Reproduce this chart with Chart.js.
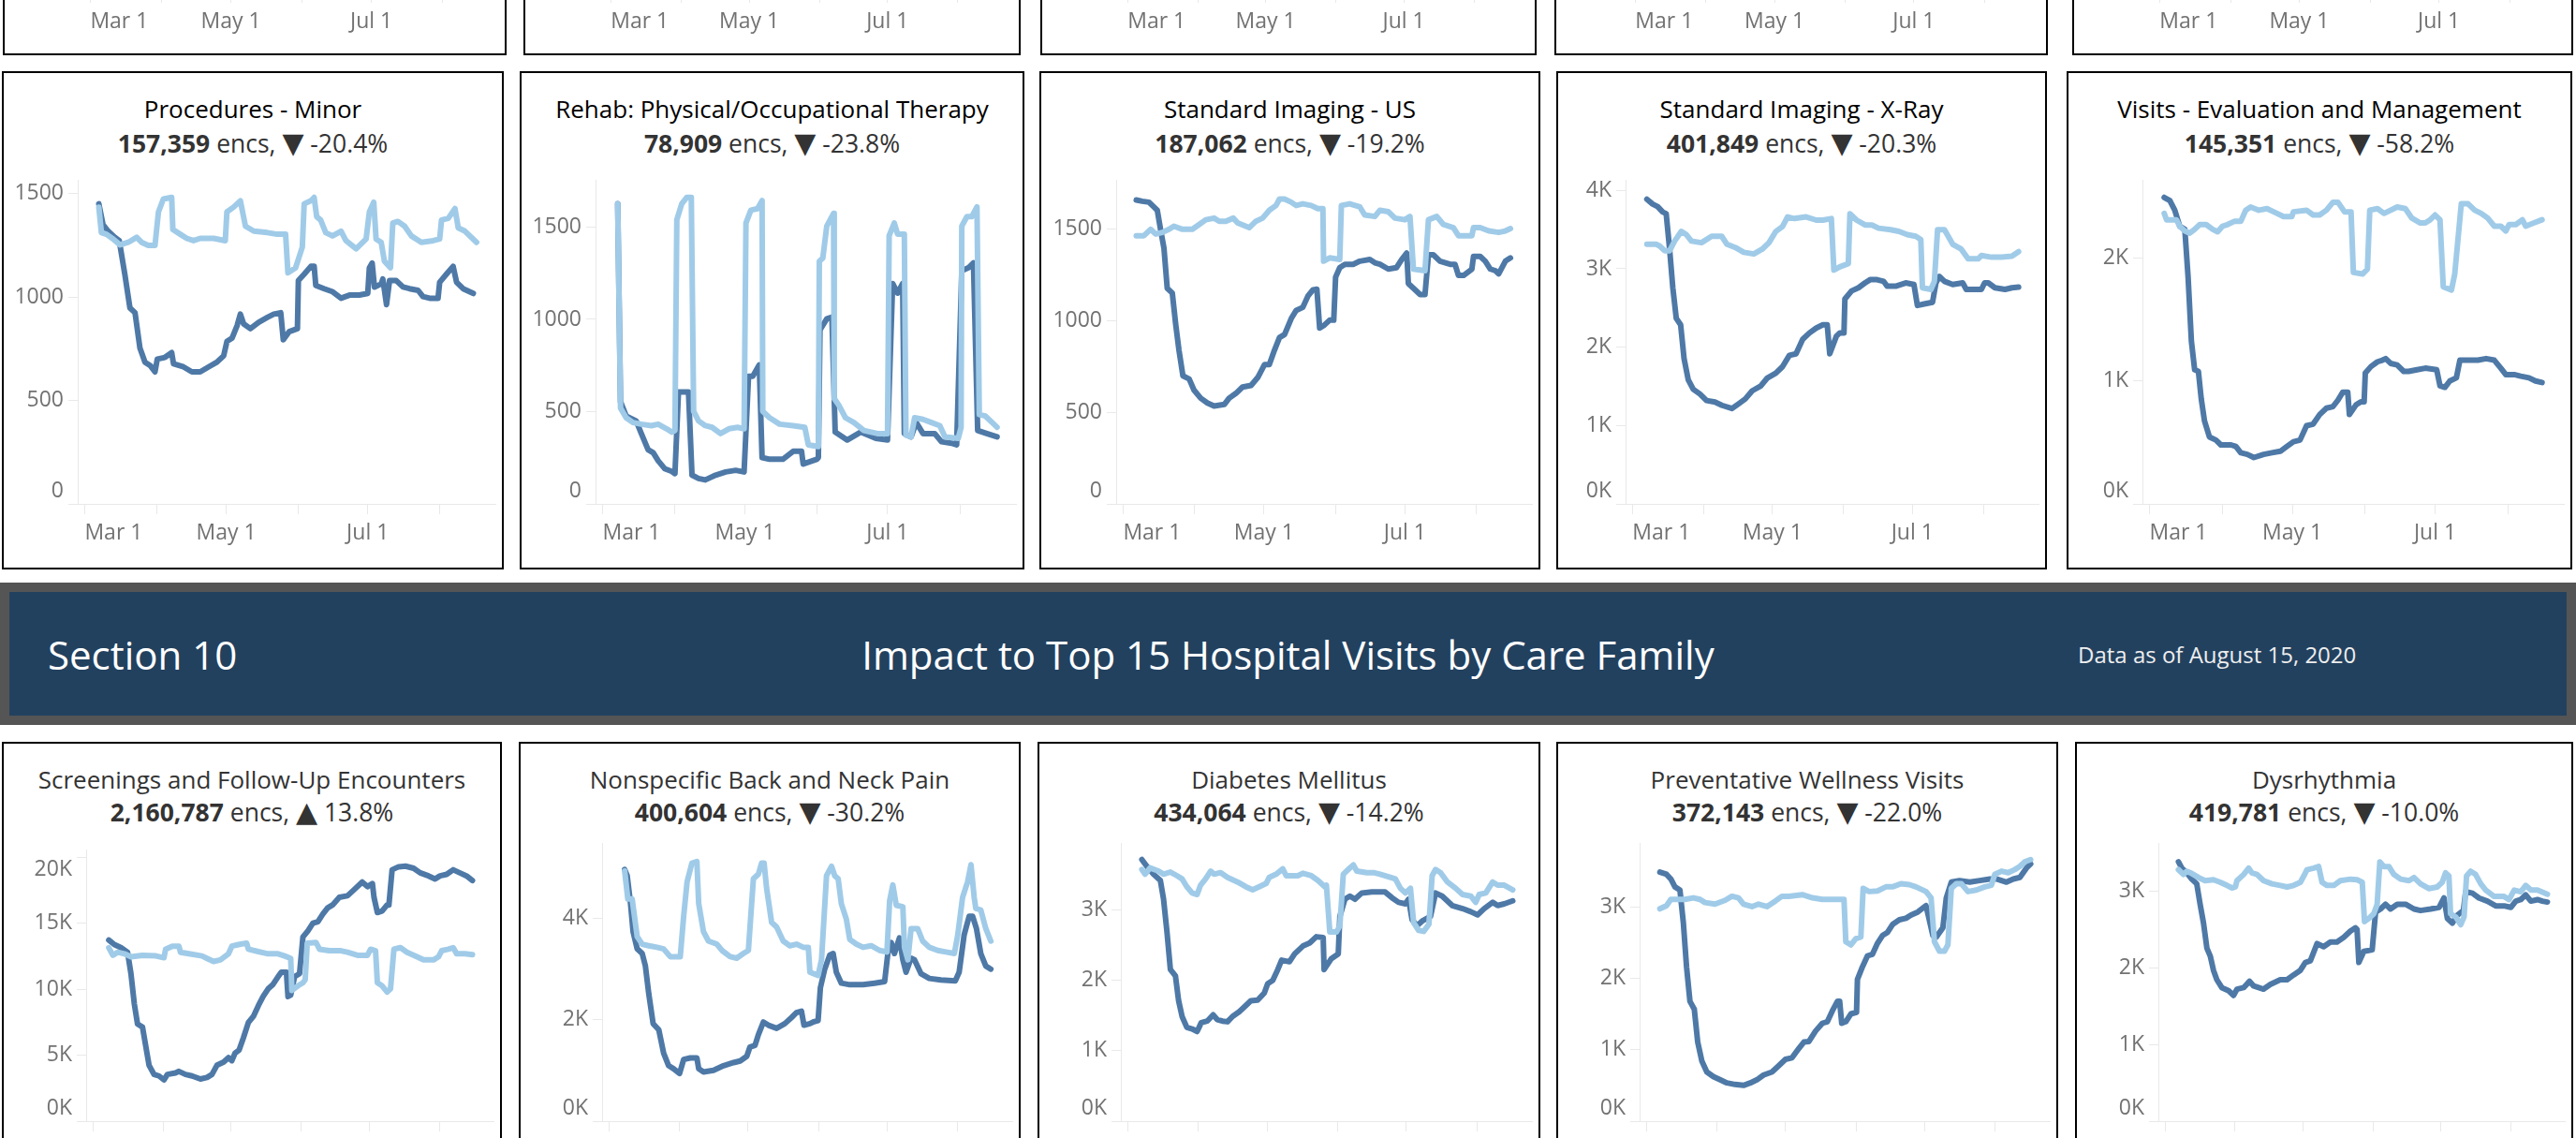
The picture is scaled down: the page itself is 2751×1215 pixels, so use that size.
<!DOCTYPE html>
<html>
<head>
<meta charset="utf-8">
<script src="https://cdn.jsdelivr.net/npm/chart.js@4.4.0/dist/chart.umd.min.js"></script>
<style>
  body { margin: 0; width: 2751px; height: 1215px; overflow: hidden; background: #fff; position: relative; font-family: 'Open Sans', 'Noto Sans', sans-serif; }
  .panel { position: absolute; box-sizing: border-box; border: 2px solid #000; background: #fff; overflow: hidden; }
  .ttl, .sub { position: absolute; left: 0; right: 0; text-align: center; white-space: nowrap; font-size: 26px; line-height: 36px; }
  .ttl.mid { color: #000; font-weight: 500; }
  .ttl.low { color: #333; }
  .sub { color: #333; font-size: 26.5px; }
  .sub b { font-weight: 700; }
  .sub i { font-style: normal; font-family: 'DejaVu Sans', sans-serif; font-size: 30px; }
  .panel canvas { position: absolute; left: 0; }
  #banner { position: absolute; left: 0; top: 622px; width: 2751px; height: 152px; background: #555; }
  #banner .inner { position: absolute; left: 10px; right: 10px; top: 10px; bottom: 10px; background: #22415f; color: #fff; }
  #banner span { position: absolute; top: 50%; transform: translateY(-50%); white-space: nowrap; }
</style>
</head>
<body>
<div id="banner"><div class="inner">
  <span style="left:41px;font-size:42px">Section 10</span>
  <span style="left:50%;transform:translate(-50%,-50%);font-size:42px">Impact to Top 15 Hospital Visits by Care Family</span>
  <span style="left:2209px;font-size:24px;color:#eee">Data as of August 15, 2020</span>
</div></div>
<script>
// x values are days since Mar 1, 2020
const monthTicks = [0, 31, 61, 92, 122, 153];
const monthLabels = ['Mar 1', '', 'May 1', '', 'Jul 1', ''];

const midTitles = ['Procedures - Minor', 'Rehab: Physical/Occupational Therapy', 'Standard Imaging - US', 'Standard Imaging - X-Ray', 'Visits - Evaluation and Management'];
const midTotals = ['157,359', '78,909', '187,062', '401,849', '145,351'];
const midChanges = [-20.4, -23.8, -19.2, -20.3, -58.2];
const midYTicks = [[0, 500, 1000, 1500], [0, 500, 1000, 1500], [0, 500, 1000, 1500], [0, 1000, 2000, 3000, 4000], [0, 1000, 2000]];
const midYMax = [1566, 1756, 1769, 4135, 2636];

const lowTitles = ['Screenings and Follow-Up Encounters', 'Nonspecific Back and Neck Pain', 'Diabetes Mellitus', 'Preventative Wellness Visits', 'Dysrhythmia'];
const lowTotals = ['2,160,787', '400,604', '434,064', '372,143', '419,781'];
const lowChanges = [13.8, -30.2, -14.2, -22.0, -10.0];
const lowYTicks = [[0, 5000, 10000, 15000, 20000], [0, 2000, 4000], [0, 1000, 2000, 3000], [0, 1000, 2000, 3000], [0, 1000, 2000, 3000]];
const lowYMax = [20557, 5495, 3955, 3899, 3635];

// [day, encounters] 2020 (dark) and 2019 (light)
const procMinorCur = [[6.1,1450],[7.9,1349],[10.1,1318],[13,1288],[14.9,1272],[17.3,1110],[19.5,947],[21.7,924],[23.8,754],[26,685],[28.2,669],[30.3,638],[31.3,700],[34.6,708],[37.5,731],[38.3,677],[42.6,662],[46.2,638],[49.8,638],[53.4,662],[57,685],[59.9,716],[61.3,785],[63.5,801],[65.7,862],[67.1,917],[68.5,870],[71.4,847],[75,878],[78.7,901],[81.5,917],[84.5,924],[85.6,793],[88.1,832],[91.7,847],[92.1,1079],[94.6,1110],[97.5,1148],[98.9,1148],[99.6,1056],[103.2,1040],[106.9,1025],[110.5,994],[114.1,1009],[118.4,1009],[122,1017],[122.7,1141],[123.9,1164],[124.9,1048],[127.8,1063],[128.5,1087],[130.1,963],[131.4,1079],[134.3,1079],[137.2,1048],[140,1040],[143.7,1032],[145.8,1002],[148.7,994],[152.3,994],[153,1071],[155.9,1110],[158.8,1148],[160.3,1071],[163.1,1040],[167.5,1017]];
const procMinorPrior = [[6.1,1434],[7.2,1311],[9.4,1303],[12.3,1280],[15.2,1252],[18.8,1264],[22.4,1288],[24.5,1264],[27.4,1249],[30.3,1249],[31.8,1411],[33.9,1473],[37.5,1481],[38,1326],[41.2,1303],[44,1283],[46.9,1272],[49.8,1283],[55.6,1283],[60.6,1272],[61.3,1411],[64.2,1434],[67.1,1465],[69.3,1342],[72.9,1318],[78.7,1311],[83,1303],[86.6,1303],[87.6,1117],[90.9,1141],[93.8,1241],[94.6,1450],[97.5,1465],[98.9,1481],[100,1388],[101.7,1372],[103.9,1311],[106.8,1295],[110.5,1318],[112.6,1272],[117,1233],[121.3,1280],[122.7,1411],[124.6,1458],[125.6,1280],[127.8,1264],[129.2,1172],[131.8,1141],[132.8,1357],[135,1365],[137.9,1342],[140.8,1295],[145.1,1264],[150.2,1272],[153,1280],[153.8,1372],[156.7,1380],[159.6,1427],[161,1334],[163.9,1318],[168.9,1264]];

const rehabCur = [[6.5,1626],[7.7,554],[10.1,476],[14.4,450],[16.6,381],[19.5,294],[21.7,277],[23.8,234],[26.7,190],[29.6,176],[31,164],[32.5,606],[36.8,606],[38.3,156],[41.1,138],[44,130],[48.4,156],[52.7,173],[57,182],[60.6,173],[62.5,692],[64.3,692],[67.1,753],[68.3,251],[71.5,242],[77.2,242],[81.6,285],[85.2,285],[85.9,216],[91.7,242],[92.4,251],[93.1,943],[96,1003],[98.2,1012],[99.6,389],[104.7,346],[110.5,389],[117,355],[122,346],[124.2,1194],[126.3,1142],[128.5,1194],[129.2,381],[132.1,363],[134.3,441],[137.2,381],[142.2,381],[145.1,337],[149.4,329],[151.6,320],[153.8,1263],[156.7,1280],[158.8,1306],[160.6,398],[164.5,381],[168.9,363]];
const rehabPrior = [[6.5,1626],[7.7,519],[10.1,467],[13,441],[16.6,432],[20.9,424],[23.8,432],[27.4,407],[29.6,389],[31,398],[31.8,1540],[33.9,1626],[36.1,1661],[38,1661],[39,502],[41.1,450],[44,424],[46.9,415],[50.5,381],[54.1,407],[57.8,415],[60.6,407],[61.4,1522],[63.5,1592],[66.4,1600],[68.3,1644],[68.6,502],[71.5,467],[75.8,432],[81.6,424],[86.6,415],[88.1,320],[92.4,311],[92.8,1315],[94.3,1332],[96,1505],[98.9,1574],[99.2,571],[101.1,536],[104,467],[107.6,441],[111.9,398],[117.7,381],[122,381],[122.7,1453],[124.9,1522],[126.3,1462],[129.2,1462],[129.9,372],[132.1,363],[133.6,467],[137.2,458],[140.8,441],[144.4,424],[146.6,363],[152.3,355],[153.5,415],[153.8,1505],[156,1557],[158.1,1557],[160.3,1609],[161.3,484],[163.9,476],[166.8,441],[168.9,415]];

const usCur = [[5.7,1659],[8.3,1652],[11.2,1647],[13.3,1621],[14.8,1603],[16.2,1499],[17.7,1395],[19.1,1177],[21.3,1151],[22.8,977],[24.2,838],[25.9,699],[28.6,682],[30.7,621],[33.6,577],[36.5,551],[39.4,534],[43.8,543],[45.9,577],[48.8,603],[51.7,638],[55.4,647],[58.3,690],[61.2,760],[63.3,760],[65.5,838],[67.7,908],[69.9,925],[72.8,1012],[74.9,1056],[77.8,1073],[80,1134],[82.2,1169],[83.9,1172],[85.1,960],[87.2,977],[89.4,1003],[91.2,1003],[92,1238],[93.8,1290],[96,1308],[99.6,1308],[102.5,1325],[106.8,1334],[109,1316],[111.2,1308],[114.8,1282],[118.4,1290],[120.6,1334],[122.8,1369],[123.5,1203],[125.7,1177],[128.6,1143],[130.7,1143],[132.2,1360],[134.3,1360],[137.2,1325],[141.6,1308],[143.7,1308],[145.2,1247],[147.4,1247],[151,1282],[151.7,1351],[154.6,1351],[156.8,1325],[159,1282],[161.2,1273],[162.6,1256],[165.5,1325],[167.7,1343]];
const usPrior = [[5.7,1464],[9,1464],[11.9,1499],[14.1,1473],[17,1482],[19.9,1499],[22,1516],[25.7,1499],[30,1499],[32.9,1525],[35.8,1551],[39.4,1560],[41.6,1543],[44.5,1543],[47.7,1560],[49.6,1534],[54.6,1508],[57.5,1543],[60.4,1560],[63.3,1603],[66.2,1629],[67.7,1664],[69.9,1664],[72.8,1647],[74.9,1629],[77.8,1638],[81.4,1629],[84.3,1612],[86.5,1612],[86.8,1325],[89.4,1343],[93.8,1334],[94.5,1629],[98.1,1638],[102.5,1621],[104.6,1577],[109,1569],[111.2,1603],[114.8,1595],[117.7,1560],[122,1551],[124.2,1569],[125.7,1282],[130.7,1273],[132.2,1551],[135.8,1569],[138.7,1525],[143,1508],[145.2,1464],[151,1464],[151.7,1508],[154.6,1508],[158.3,1490],[162.6,1482],[165.5,1490],[167.7,1503]];

const xrayCur = [[6.3,3888],[8.8,3826],[11,3793],[13.2,3724],[14.7,3703],[16.2,3251],[17.6,2758],[19.1,2367],[21,2285],[22.5,1854],[24.3,1586],[26.5,1463],[29.4,1402],[32.3,1319],[36,1299],[39,1258],[43.4,1217],[46.3,1278],[49.2,1340],[52.2,1443],[55.9,1504],[58.8,1607],[62.5,1669],[65.4,1751],[68.4,1895],[71.3,1915],[74.2,2100],[77.2,2182],[80.1,2244],[83,2285],[84.9,2285],[86,1915],[88.9,2141],[90.4,2182],[92.2,2182],[92.6,2614],[95.5,2717],[98.5,2758],[101.4,2820],[103.6,2861],[106.6,2861],[109.5,2840],[111,2778],[114.7,2778],[119.1,2820],[122.7,2799],[124.2,2532],[127.2,2552],[130.8,2573],[132.3,2820],[133.8,2902],[136,2840],[139.6,2799],[144,2820],[145.5,2737],[152.1,2737],[153.5,2820],[155.1,2820],[158,2758],[162.4,2737],[165.4,2758],[168.3,2766]];
const xrayPrior = [[6.3,3313],[10.3,3313],[11.8,3292],[14,3231],[16.2,3231],[18.4,3354],[21.3,3477],[23.5,3436],[25.7,3354],[30.1,3333],[34.5,3415],[38.9,3415],[41.2,3313],[44.8,3272],[48.5,3210],[52.9,3189],[56.6,3251],[59.5,3333],[62.5,3477],[65.4,3539],[67.6,3662],[70.6,3641],[75.7,3662],[80.1,3621],[83,3621],[86.7,3641],[87.8,2984],[90.4,3025],[94.1,3066],[94.8,3703],[97.7,3621],[101.4,3559],[104.4,3559],[107.3,3518],[112.5,3498],[116.1,3477],[119.8,3436],[123.5,3415],[125.7,3374],[126.4,2758],[130.1,2737],[131.6,2840],[133,3498],[136,3498],[139.6,3313],[143.3,3251],[146.3,3128],[150.7,3128],[152.1,3169],[156.5,3148],[160.9,3148],[165.4,3161],[168.3,3218]];

const emCur = [[6.3,2493],[8.7,2467],[10.8,2389],[12.9,2259],[15.1,2233],[16.5,1844],[17.9,1324],[19.3,1091],[20.9,1078],[22.1,857],[23.5,675],[25.6,545],[28.4,519],[30.5,480],[34.8,480],[36.9,467],[39,416],[41.8,403],[44.6,377],[48.8,403],[52.3,416],[55.9,428],[58.7,467],[61.5,506],[64.3,519],[67.1,636],[69.9,649],[72.7,727],[75.6,779],[78.4,792],[80.5,844],[82.6,909],[84.7,909],[85.4,727],[88.2,805],[90.3,831],[91.7,831],[92.2,1065],[94.6,1117],[97.4,1156],[99.5,1169],[100.9,1182],[103,1143],[105.8,1130],[108.6,1078],[110.7,1078],[114.3,1091],[117.8,1104],[122.7,1091],[124.1,961],[126.2,948],[128.3,1000],[131.1,1026],[132.6,1169],[136.1,1169],[140.3,1169],[143.8,1182],[147.3,1169],[150.1,1104],[152.2,1052],[155.8,1052],[158.6,1039],[162.1,1026],[164.9,1000],[167.7,987]];
const emPrior = [[6.3,2363],[7.3,2311],[11.5,2311],[12.9,2259],[15.1,2220],[17.2,2202],[19.3,2233],[21.4,2272],[24.2,2272],[27,2233],[29.1,2213],[31.2,2259],[33.3,2272],[36.2,2298],[39,2298],[41.1,2389],[43.2,2415],[46.7,2389],[50.2,2402],[54.5,2363],[57.3,2337],[60.8,2337],[61.5,2376],[67.1,2389],[69.9,2350],[72.7,2350],[75.6,2389],[78.4,2454],[80.5,2454],[83.3,2376],[86.1,2376],[87.1,1883],[91,1870],[93.1,1909],[94.1,2389],[97.4,2402],[100.2,2363],[105.8,2415],[109.3,2402],[112.1,2324],[115.7,2285],[117.8,2285],[119.9,2311],[122,2350],[124.1,2311],[125.5,1766],[129,1740],[130.4,1870],[133.2,2441],[136.1,2441],[138.9,2389],[141.7,2363],[144.5,2324],[147.3,2259],[150.1,2259],[152.2,2220],[153.6,2272],[156.5,2272],[159.3,2311],[160.7,2259],[164.2,2285],[167.7,2311]];

const screenCur = [[7,13728],[9.5,13380],[12.4,13149],[15.3,12802],[16.8,11181],[18.3,8866],[19.7,7362],[21.9,7130],[23.4,5625],[24.8,4236],[27,3542],[29.2,3426],[31.4,3125],[32.9,3542],[36.5,3658],[38,3773],[40.9,3542],[43.8,3426],[47.5,3195],[50.4,3310],[52.6,3542],[54.8,4236],[57.7,4468],[59.9,4815],[61.4,4584],[62.8,5162],[64.6,5394],[66.5,6320],[68.7,7477],[70.9,7940],[73.1,8751],[75.2,9445],[77.4,10024],[79.6,10371],[81.8,10950],[83.3,11297],[85.5,11297],[86.2,9445],[87.4,9561],[89.1,10950],[91.3,11181],[92.8,13959],[95,14422],[97.2,15001],[99.4,15117],[101.6,15696],[103.7,16159],[105.9,16390],[108.9,16969],[112.5,17085],[115.4,17547],[119,18126],[121.3,17779],[123.5,18011],[124.2,16969],[125.7,15811],[127.8,15927],[130,16390],[130.8,16390],[132.2,19052],[135.1,19283],[138.1,19330],[141.7,19168],[144.6,18821],[148.3,18589],[151.2,18358],[153.4,18589],[156.3,18705],[159.2,19052],[162.1,18821],[165.1,18589],[167.7,18242]];
const screenPrior = [[7,13149],[8.8,12570],[10.9,12802],[13.9,12686],[16.8,12455],[21.9,12570],[27.8,12524],[31.4,12385],[32.1,13033],[35.1,13265],[38,13265],[38.7,12802],[42.4,12686],[48.2,12524],[50.4,12339],[53.3,12107],[56.3,12223],[59.9,12686],[61.4,13265],[64.3,13380],[67.9,13496],[68.7,13033],[73.1,12848],[77.4,12686],[81.8,12686],[84.7,12524],[87.4,12339],[87.9,9908],[90.6,10256],[92.8,10487],[93.8,10718],[94.7,13496],[98.6,13542],[100.1,13033],[104.5,12918],[109.6,12918],[112.5,12802],[116.9,12570],[121.3,12570],[122.7,13033],[124.9,12918],[125.7,10487],[127.8,10256],[130,9792],[131.5,10024],[133,13033],[135.9,13149],[138.8,12802],[143.2,12455],[146.1,12223],[150.5,12223],[152.7,12455],[154.1,12918],[157.1,13033],[159.2,13149],[160.7,12686],[164.4,12686],[167.7,12617]];

const backCur = [[6.9,4972],[8,4849],[9.5,4295],[10.6,3742],[12.4,3403],[14.6,3311],[16,3065],[17.5,2511],[19.4,1926],[21.9,1803],[24,1342],[26.2,1095],[28.4,1034],[31,942],[32.8,1218],[35.7,1249],[38.6,1249],[39.4,1034],[41.5,972],[45.9,1003],[50.3,1095],[54.7,1157],[57.6,1188],[60.5,1280],[61.9,1465],[64.1,1495],[65.6,1711],[67.8,1957],[70,1895],[73.6,1834],[77.2,1926],[80.2,2049],[82.3,2142],[84.5,2172],[85.6,1895],[88.2,1926],[89.6,1957],[91.8,1988],[92.8,2634],[94.7,3003],[96.9,3280],[98.4,3311],[99.8,2942],[102,2726],[105.7,2695],[111.5,2695],[116.6,2726],[121,2757],[122.4,3311],[123.9,3526],[125.3,3311],[127.5,3619],[129,3188],[130.4,2942],[132.6,3219],[134.1,3188],[137,2911],[140.6,2819],[145.7,2788],[152,2769],[153.7,2942],[155.9,3680],[158.1,4049],[159.6,4049],[161.3,3803],[163.2,3311],[165.4,3065],[167.6,3003]];
const backPrior = [[6.9,4942],[8.3,4388],[10.2,4388],[12.4,3649],[14.6,3496],[17.5,3465],[21.1,3434],[24,3403],[26.9,3249],[31.3,3249],[32.8,4049],[34.3,4726],[36.4,5095],[38.6,5126],[39.4,4295],[41.5,3742],[43.7,3557],[47.4,3496],[49.6,3372],[53.2,3249],[56.1,3219],[59,3311],[61.2,3372],[63.4,4788],[65.6,4880],[67,5095],[68.1,5095],[69.2,4603],[71.4,3926],[73.6,3834],[76.5,3557],[79.4,3465],[82.3,3496],[85.3,3434],[87.5,3434],[88.2,2942],[91.8,2880],[93.3,3188],[95.5,4849],[97.7,5034],[99.1,4849],[100.6,4788],[102,4295],[104.2,3988],[105.7,3588],[108.6,3496],[111.5,3434],[115.1,3465],[118.8,3372],[122,3342],[123.2,4357],[124.6,4665],[126.1,4265],[129,4234],[129.7,3434],[131.2,3188],[132.6,3803],[135.5,3803],[137.7,3557],[140.6,3434],[144.3,3372],[147.9,3342],[151.6,3311],[153.1,3680],[155.2,4419],[157.4,4726],[158.9,5065],[160.3,4419],[161,4203],[163.2,4172],[165.4,3803],[167.6,3557]];

const diabCur = [[6.2,3720],[8.4,3622],[11.3,3511],[14.3,3422],[15.7,3155],[17.2,2689],[18.7,2155],[20.9,2067],[22.3,1711],[23.8,1489],[25.9,1333],[28.2,1311],[30.4,1275],[32.2,1400],[34.8,1422],[37.4,1511],[39.2,1444],[41.5,1422],[43.7,1413],[45.9,1489],[48.8,1555],[51,1622],[53.9,1711],[56.9,1720],[59.8,1822],[61.3,1955],[63.5,2000],[65.7,2155],[67.4,2289],[70.8,2266],[73.1,2378],[76.7,2489],[79.7,2533],[82.6,2622],[85.6,2609],[86,2155],[89.2,2311],[92.2,2378],[92.9,2911],[95.1,3155],[97.3,3200],[99.5,3155],[102.5,3244],[106.9,3258],[112.7,3258],[115.7,3177],[118.6,3111],[121.6,3089],[123,3155],[124.5,2866],[126.7,2778],[128.9,2844],[132.6,2911],[134.8,3244],[137.7,3200],[142.1,3066],[146.6,3022],[150.2,2978],[153.2,2933],[156.1,3022],[159.8,3111],[162,3066],[164.9,3089],[168.6,3133]];
const diabPrior = [[6.2,3578],[7.6,3511],[9.8,3600],[13.5,3555],[15.7,3511],[18.7,3542],[21.6,3489],[23.8,3444],[25.9,3333],[28.2,3244],[30.4,3222],[31.9,3355],[34.1,3444],[36.3,3555],[37.8,3511],[40.7,3533],[43.7,3466],[48.1,3400],[51.7,3333],[54.7,3289],[57.6,3333],[60.6,3378],[62,3466],[65,3511],[67.9,3586],[69.4,3489],[74.5,3489],[76.7,3524],[80.4,3489],[83.3,3422],[86.3,3333],[87,3355],[88.5,2689],[91.4,2689],[92.9,2778],[94.4,3511],[96.6,3578],[98.8,3644],[100.3,3555],[104.7,3533],[107.6,3533],[110.5,3511],[114.9,3466],[117.2,3444],[119.4,3311],[121.6,3244],[123.8,3311],[125.2,2822],[127.4,2711],[129.6,2698],[131.9,2800],[133.3,3489],[134.8,3578],[137,3533],[140,3400],[143.6,3311],[146.6,3222],[150.2,3200],[152.4,3111],[153.9,3222],[156.8,3244],[159.8,3400],[162,3355],[164.9,3355],[168.6,3289]];

const wellCur = [[5.9,3490],[8.8,3460],[10.7,3394],[12.5,3284],[14.7,3240],[16.2,2778],[17.6,2163],[19.1,1679],[21,1569],[22.5,1108],[24.3,844],[26.5,690],[29.4,624],[32.3,580],[35.3,536],[38.9,514],[42.6,501],[45.6,536],[48.5,580],[51.4,646],[55.1,690],[58.1,778],[61,866],[63.9,888],[66.9,1020],[69.1,1108],[71.3,1117],[74.2,1262],[77.2,1372],[79.4,1394],[81.6,1547],[83.8,1679],[84.8,1679],[85.7,1372],[87.5,1394],[89.7,1503],[92.2,1525],[92.6,1987],[94.8,2163],[97,2317],[99.2,2339],[101.4,2493],[103.6,2602],[105.8,2646],[108,2756],[111,2822],[113.9,2844],[116.1,2888],[119.1,2932],[122.7,3020],[123.5,2910],[125.7,2602],[127.2,2580],[130.1,2712],[131.6,3130],[133.8,3350],[137.4,3372],[141.9,3350],[146.3,3372],[150.7,3394],[153.6,3394],[158,3350],[161,3394],[163.9,3416],[166.8,3548],[168.6,3605]];
const wellPrior = [[5.9,2976],[8.8,3020],[10.7,3108],[13.2,3108],[16.9,3108],[20.6,3130],[23.5,3108],[25.7,3064],[30.1,3042],[34.5,3095],[37.5,3152],[40.4,3130],[42.6,3042],[46.3,3007],[49.2,3042],[52.9,3007],[56.6,3086],[59.5,3152],[62.5,3152],[68.4,3174],[72.8,3130],[77.2,3108],[81.6,3108],[86.7,3108],[87.5,2514],[89.7,2471],[91.9,2558],[94.1,2580],[95.1,3262],[97.7,3218],[101.4,3227],[105.1,3284],[108,3284],[111.7,3328],[115.4,3315],[118.3,3284],[122.7,3218],[124.9,3130],[126.4,2514],[128.6,2383],[130.8,2383],[132.3,2471],[133.8,3262],[136,3328],[138.2,3328],[141.1,3218],[144.8,3240],[148.5,3284],[151.4,3306],[152.9,3460],[155.8,3504],[158.8,3482],[161.7,3526],[163.9,3570],[166.1,3636],[168.6,3666]];

const dysCur = [[5.9,3388],[7.4,3306],[9.6,3244],[11.8,3162],[14,3101],[15.5,2834],[17,2587],[18.5,2259],[20,2156],[21.4,1971],[22.9,1848],[25.1,1745],[28.1,1704],[30.3,1643],[31.8,1725],[34.8,1745],[37.4,1828],[39.2,1766],[43.6,1725],[46.6,1787],[51,1848],[54,1848],[56.9,1910],[59.9,1971],[62.1,2074],[64.3,2094],[67.3,2320],[70.2,2279],[73.2,2341],[76.1,2341],[79.1,2402],[82.1,2485],[84.3,2526],[85,2505],[85.8,2074],[88,2218],[91.7,2238],[93.2,2731],[95.4,2772],[97.6,2834],[99.8,2772],[102.8,2834],[106.5,2834],[110.2,2772],[113.1,2752],[117.6,2772],[121.3,2793],[123.5,2916],[125,2649],[127.2,2587],[129.4,2690],[132.1,2752],[133.1,2998],[136.1,2978],[139,2916],[142.7,2875],[146.4,2813],[150.1,2813],[153.1,2793],[155.3,2875],[157.5,2895],[159.7,2957],[162,2875],[164.9,2895],[167.1,2875],[169.3,2863]];
const dysPrior = [[5.9,3286],[8.1,3224],[9.6,3265],[11.8,3236],[14.8,3183],[17.7,3142],[21.4,3154],[24.4,3121],[27.4,3080],[29.6,3047],[31.1,3060],[31.8,3142],[34.8,3224],[37,3306],[38.4,3244],[40.7,3224],[43.6,3142],[47.3,3101],[51,3080],[54,3060],[56.9,3080],[59.9,3121],[61.4,3203],[62.8,3285],[65.8,3306],[68,3327],[69.5,3121],[71.7,3080],[74.7,3080],[77.6,3142],[82.1,3162],[85,3154],[87.3,3121],[88.3,2608],[90.2,2649],[92.4,2711],[93.9,2834],[95.1,3388],[96.9,3327],[99.1,3327],[101.3,3224],[104.3,3162],[108,3142],[110.2,3183],[113.1,3101],[116.8,3039],[120.5,3060],[122.7,3121],[124.2,3244],[125.7,3203],[126.4,2711],[128.7,2669],[130.9,2567],[132.4,2669],[133.5,3203],[135.3,3265],[137.5,3224],[139.8,3101],[142,3019],[145.7,2936],[150.1,2936],[152.3,2895],[154.6,3019],[157.5,2998],[159.7,3080],[162,3019],[164.9,3019],[169.3,2965]];

const midSeries = [[procMinorCur, procMinorPrior], [rehabCur, rehabPrior], [usCur, usPrior], [xrayCur, xrayPrior], [emCur, emPrior]];
const lowSeries = [[screenCur, screenPrior], [backCur, backPrior], [diabCur, diabPrior], [wellCur, wellPrior], [dysCur, dysPrior]];

// layout (px)
const rows = {
  top: { y: -470, h: 529, titleY: 40, subY: 77, plotTop: 116, zero: 462 },
  mid: { y: 76, h: 532, titleY: 40, subY: 77, plotTop: 116, zero: 462 },
  low: { y: 792, h: 460, titleY: 40, subY: 75, plotTop: 108, zero: 405 }
};
const topCols = [[3, 538, 86], [559, 531, 86], [1111, 530, 86], [1660, 527, 79], [2213, 535, 86]];
const midCols = [[2, 536, 81], [555, 539, 81], [1110, 535, 82], [1662, 524, 74], [2207, 540, 81]];
const lowCols = [[2, 534, 90], [554, 536, 89], [1108, 537, 89], [1662, 536, 89], [2216, 532, 89]];

Chart.defaults.font.family = "'Open Sans', 'Noto Sans', sans-serif";
Chart.defaults.color = '#727272';

const DARK = '#4e79a7';
const LIGHT = '#a0cbe8';
const AXIS = '#e9e9e9';
const PAD_TOP = 24;
const X_AXIS_H = 45;

// Tableau keeps edge labels inside the pane: nudge the 0 label up and a label at the very top down
function fmtTick(v, useK, yMax) {
  const text = useK ? (v / 1000) + 'K' : String(v);
  if (v === 0) return [text, ''];
  if (yMax - v < yMax * 0.03) return ['', text];
  return text;
}

function makePanel(rowKey, col, opts) {
  const row = rows[rowKey];
  const [x, w, axisW] = col;
  const panel = document.createElement('div');
  panel.className = 'panel';
  Object.assign(panel.style, { left: x + 'px', top: row.y + 'px', width: w + 'px', height: row.h + 'px' });
  document.body.appendChild(panel);

  if (opts.title) {
    const t = document.createElement('div');
    t.className = 'ttl ' + rowKey;
    t.style.top = (row.titleY - 18 - 2) + 'px';
    t.textContent = opts.title;
    panel.appendChild(t);
    const s = document.createElement('div');
    s.className = 'sub';
    s.style.top = (row.subY - 18 - 2) + 'px';
    const arrow = opts.change >= 0 ? '▲' : '▼';
    s.innerHTML = '<b>' + opts.total + '</b> encs, <i>' + arrow + '</i> ' + opts.change.toFixed(1) + '%';
    panel.appendChild(s);
  }

  const cw = w - 4;
  const ch = (row.zero - row.plotTop) + PAD_TOP + X_AXIS_H;
  const canvas = document.createElement('canvas');
  canvas.width = cw;
  canvas.height = ch;
  canvas.style.width = cw + 'px';
  canvas.style.height = ch + 'px';
  canvas.style.top = (row.plotTop - PAD_TOP - 2) + 'px';
  panel.appendChild(canvas);

  const toXY = arr => arr.map(p => ({ x: p[0], y: p[1] }));
  const datasets = opts.series ? [
    { data: toXY(opts.series[0]), borderColor: DARK, order: 1 },
    { data: toXY(opts.series[1]), borderColor: LIGHT, order: 0 }
  ] : [];
  const yMax = opts.yMax || 1566;

  new Chart(canvas, {
    type: 'line',
    data: { datasets },
    options: {
      responsive: false,
      animation: false,
      devicePixelRatio: 1,
      layout: { padding: { top: PAD_TOP, right: 7, left: 0, bottom: 0 } },
      elements: {
        point: { radius: 0 },
        line: { borderWidth: 6, tension: 0, borderJoinStyle: 'round', borderCapStyle: 'round', fill: false }
      },
      plugins: { legend: { display: false }, tooltip: { enabled: false } },
      scales: {
        x: {
          type: 'linear', min: -3, max: 177,
          afterBuildTicks: s => { s.ticks = monthTicks.map(v => ({ value: v })); },
          afterFit: s => { s.height = X_AXIS_H; },
          ticks: {
            autoSkip: false, maxRotation: 0, align: 'inner', padding: 7,
            font: { size: 23 },
            callback: v => monthLabels[monthTicks.indexOf(v)] || ''
          },
          grid: { drawOnChartArea: false, drawTicks: true, tickLength: 11, color: AXIS },
          border: { color: AXIS }
        },
        y: {
          min: 0, max: yMax,
          afterBuildTicks: s => { s.ticks = (opts.yTicks || [0, 500, 1000, 1500]).map(v => ({ value: v })); },
          afterFit: s => { s.width = axisW - 2; },
          ticks: {
            padding: 5, font: { size: 23, lineHeight: 1.15 },
            callback: v => fmtTick(v, opts.useK, yMax)
          },
          grid: { drawOnChartArea: false, drawTicks: true, tickLength: 10, color: AXIS },
          border: { color: AXIS }
        }
      }
    }
  });
}

topCols.forEach(c => makePanel('top', c, {}));
midCols.forEach((c, i) => makePanel('mid', c, {
  title: midTitles[i], total: midTotals[i], change: midChanges[i],
  series: midSeries[i], yTicks: midYTicks[i], yMax: midYMax[i], useK: i >= 3
}));
lowCols.forEach((c, i) => makePanel('low', c, {
  title: lowTitles[i], total: lowTotals[i], change: lowChanges[i],
  series: lowSeries[i], yTicks: lowYTicks[i], yMax: lowYMax[i], useK: true
}));
</script>
</body>
</html>
